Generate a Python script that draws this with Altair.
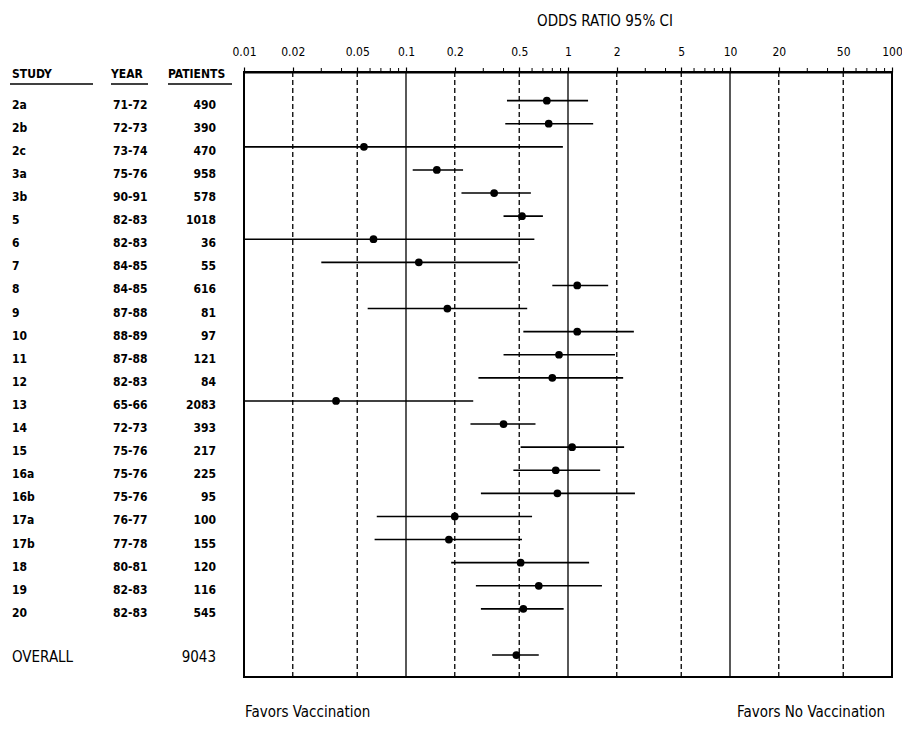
import altair as alt
import pandas as pd

# ---- data ----
studies = ["2a", "2b", "2c", "3a", "3b", "5", "6", "7", "8", "9", "10", "11", "12",
           "13", "14", "15", "16a", "16b", "17a", "17b", "18", "19", "20"]
years = ["71-72", "72-73", "73-74", "75-76", "90-91", "82-83", "82-83", "84-85", "84-85",
         "87-88", "88-89", "87-88", "82-83", "65-66", "72-73", "75-76", "75-76", "75-76",
         "76-77", "77-78", "80-81", "82-83", "82-83"]
patients = [490, 390, 470, 958, 578, 1018, 36, 55, 616, 81, 97, 121, 84, 2083, 393, 217,
            225, 95, 100, 155, 120, 116, 545]
odds = [0.74, 0.76, 0.055, 0.155, 0.35, 0.52, 0.063, 0.12, 1.14, 0.18, 1.14, 0.88, 0.80,
        0.037, 0.40, 1.06, 0.84, 0.86, 0.20, 0.184, 0.51, 0.66, 0.53]
ci_low = [0.42, 0.41, 0.01, 0.11, 0.22, 0.40, 0.01, 0.030, 0.80, 0.058, 0.53, 0.40, 0.28,
          0.01, 0.25, 0.51, 0.46, 0.29, 0.066, 0.064, 0.19, 0.27, 0.29]
ci_high = [1.33, 1.43, 0.93, 0.225, 0.59, 0.70, 0.62, 0.49, 1.77, 0.56, 2.55, 1.95, 2.19,
           0.26, 0.63, 2.22, 1.58, 2.59, 0.60, 0.52, 1.35, 1.62, 0.94]
overall_label = "OVERALL"
overall_patients = 9043
overall_odds = 0.48
overall_low = 0.34
overall_high = 0.66

major_ticks = [0.01, 0.02, 0.05, 0.1, 0.2, 0.5, 1, 2, 5, 10, 20, 50, 100]
minor_ticks = [0.03, 0.04, 0.06, 0.07, 0.08, 0.09, 0.3, 0.4, 0.6, 0.7, 0.8, 0.9,
               3, 4, 6, 7, 8, 9, 30, 40, 60, 70, 80, 90]
ref_lines = [0.02, 0.05, 0.1, 0.2, 0.5, 1, 2, 5, 10, 20, 50]

# ---- tables ----
n = len(studies)
rows = pd.DataFrame({
    "row": list(range(n)),
    "study": studies,
    "year": years,
    "patients": [str(p) for p in patients],
    "or": odds,
    "lo": ci_low,
    "hi": ci_high,
})
overall = pd.DataFrame({
    "row": [n + 1],
    "study": [overall_label],
    "patients": [str(overall_patients)],
    "or": [overall_odds],
    "lo": [overall_low],
    "hi": [overall_high],
})
est = pd.concat([rows[["row", "or", "lo", "hi"]], overall[["row", "or", "lo", "hi"]]])
refs = pd.DataFrame({"v": ref_lines,
                     "kind": ["solid" if v in (0.1, 1, 10) else "dashed" for v in ref_lines]})
minors = pd.DataFrame({"v": minor_ticks})

W, H = 648, 605
FONT = "Liberation Sans Narrow, DejaVu Sans Condensed, Liberation Sans, sans-serif"

xscale = alt.Scale(type="log", domain=[0.01, 100], nice=False)
yscale = alt.Scale(domain=[-1.24, 24.95], reverse=True, nice=False, zero=False)
xaxis = alt.Axis(orient="top", values=major_ticks, format="~g", title=None,
                 grid=False, tickSize=5, tickWidth=1.2, tickColor="black",
                 domainColor="black", domainWidth=2, labelFont=FONT,
                 labelFontSize=12, labelFontWeight="normal", labelColor="black",
                 labelPadding=9, labelFlush=False, labelOverlap=False)
X = lambda f: alt.X(f, scale=xscale, axis=xaxis, title=None)
Y = alt.Y("row:Q", scale=yscale, axis=None)

minor_layer = alt.Chart(minors).mark_rule(color="black", strokeWidth=1).encode(
    x=X("v:Q"), y=alt.value(-4), y2=alt.value(0)
)

ref_layer = alt.Chart(refs).mark_rule(color="black", strokeWidth=1.3).encode(
    x=X("v:Q"), y=alt.value(0), y2=alt.value(H),
    strokeDash=alt.StrokeDash("kind:N", scale=alt.Scale(domain=["solid", "dashed"],
                                                         range=[[1, 0], [5, 3]]),
                              legend=None),
)

ci_layer = alt.Chart(est).mark_rule(color="black", strokeWidth=1.6, clip=True).encode(
    x=X("lo:Q"), x2="hi:Q", y=Y
)
dot_layer = alt.Chart(est).mark_circle(color="black", size=60, opacity=1).encode(
    x=X("or:Q"), y=Y
)

txt = dict(font=FONT, fontSize=12, fontWeight="bold", color="black", dy=4, baseline="middle")
study_col = alt.Chart(rows).mark_text(align="left", **txt).encode(
    x=alt.value(-232), y=Y, text="study:N")
year_col = alt.Chart(rows).mark_text(align="left", **txt).encode(
    x=alt.value(-131), y=Y, text="year:N")
pat_col = alt.Chart(rows).mark_text(align="right", **txt).encode(
    x=alt.value(-28), y=Y, text="patients:N")

big = dict(font=FONT, fontSize=15, color="black", baseline="middle", dy=2)
ov_label = alt.Chart(overall).mark_text(align="left", **big).encode(
    x=alt.value(-232), y=Y, text="study:N")
ov_pat = alt.Chart(overall).mark_text(align="right", **big).encode(
    x=alt.value(-28), y=Y, text="patients:N")

headers = pd.DataFrame({"label": ["STUDY", "YEAR", "PATIENTS"]})
hdr_style = dict(font=FONT, fontSize=12, fontWeight="bold", color="black", baseline="middle")
hdr_study = alt.Chart(headers.iloc[[0]]).mark_text(align="left", **hdr_style).encode(
    x=alt.value(-232), y=alt.value(2), text="label:N")
hdr_year = alt.Chart(headers.iloc[[1]]).mark_text(align="left", **hdr_style).encode(
    x=alt.value(-133), y=alt.value(2), text="label:N")
hdr_pat = alt.Chart(headers.iloc[[2]]).mark_text(align="left", **hdr_style).encode(
    x=alt.value(-76), y=alt.value(2), text="label:N")
ul = dict(color="black", strokeWidth=1.5)
ul1 = alt.Chart(headers.iloc[[0]]).mark_rule(**ul).encode(
    x=alt.value(-234), x2=alt.value(-151), y=alt.value(12))
ul2 = alt.Chart(headers.iloc[[1]]).mark_rule(**ul).encode(
    x=alt.value(-133), x2=alt.value(-96), y=alt.value(12))
ul3 = alt.Chart(headers.iloc[[2]]).mark_rule(**ul).encode(
    x=alt.value(-76), x2=alt.value(-12), y=alt.value(12))

title = alt.Chart(pd.DataFrame({"t": ["ODDS RATIO  95% CI"]})).mark_text(
    font=FONT, fontSize=15, color="black", align="center", baseline="middle"
).encode(x=alt.value(361), y=alt.value(-51), text="t:N")

fav_l = alt.Chart(pd.DataFrame({"t": ["Favors Vaccination"]})).mark_text(
    font=FONT, fontSize=15, color="black", align="left", baseline="middle"
).encode(x=alt.value(1), y=alt.value(640), text="t:N")
fav_r = alt.Chart(pd.DataFrame({"t": ["Favors No Vaccination"]})).mark_text(
    font=FONT, fontSize=15, color="black", align="right", baseline="middle"
).encode(x=alt.value(641), y=alt.value(640), text="t:N")

chart = alt.layer(
    minor_layer, ref_layer, ci_layer, dot_layer,
    study_col, year_col, pat_col, ov_label, ov_pat,
    hdr_study, hdr_year, hdr_pat, ul1, ul2, ul3, title, fav_l, fav_r,
).properties(
    width=W, height=H,
    autosize=alt.AutoSizeParams(type="none"),
    padding={"left": 244, "top": 72, "right": 10, "bottom": 53},
    background="white",
).configure_view(stroke="black", strokeWidth=2)

chart.save("out.html", embed_options={"renderer": "svg", "actions": False})
